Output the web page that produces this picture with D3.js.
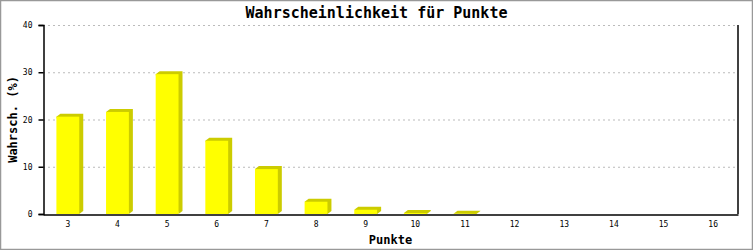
<!DOCTYPE html>
<html>
<head>
<meta charset="utf-8">
<script src="https://cdn.jsdelivr.net/npm/d3@7"></script>
<style>
  body { margin: 0; background: #fff; }
  svg text { font-family: 'DejaVu Sans Mono', monospace; fill: #000; }
</style>
</head>
<body>
<div id="chart"></div>
<script>
  // chart values
  const categories = ['3', '4', '5', '6', '7', '8', '9', '10', '11', '12', '13', '14', '15', '16'];
  const values = [20.6, 21.6, 29.6, 15.5, 9.5, 2.6, 0.9, 0.2, 0.05, 0, 0, 0, 0, 0];
  const yTicks = [0, 10, 20, 30, 40];
  const title = 'Wahrscheinlichkeit für Punkte';
  const xLabel = 'Punkte';
  const yLabel = 'Wahrsch. (%)';

  const width = 753, height = 250;
  const margin = { top: 25, right: 15, bottom: 36, left: 43 };
  const depth = { dx: 4, dy: 3 };

  let svg = d3.select('#chart')
    .append('svg')
    .attr('width', width)
    .attr('height', height);

  svg.append('rect')
    .attr('x', 0.5).attr('y', 0.5)
    .attr('width', width - 1).attr('height', height - 1)
    .attr('fill', '#fff')
    .attr('stroke', '#999')
    .attr('stroke-width', 1.5);

  let x = d3.scaleBand()
    .domain(categories)
    .range([margin.left, width - margin.right])
    .padding(0);
  let y = d3.scaleLinear()
    .domain([0, 40])
    .range([height - margin.bottom, margin.top]);

  let barW = x.bandwidth() * 0.46;

  // grid lines
  svg.append('g')
    .selectAll('line')
    .data(yTicks.filter(d => d > 0))
    .enter()
    .append('line')
    .attr('x1', margin.left)
    .attr('x2', width - margin.right)
    .attr('y1', d => y(d) + 0.5)
    .attr('y2', d => y(d) + 0.5)
    .attr('stroke', '#bbb')
    .attr('stroke-dasharray', '2,3');

  // y axis
  let gY = svg.append('g')
    .attr('transform', `translate(${margin.left + 0.5},0)`)
    .call(d3.axisLeft(y).tickValues(yTicks).tickSize(5).tickPadding(6));
  gY.select('.domain').attr('stroke', '#000').attr('stroke-width', 1.5);
  gY.selectAll('.tick line').attr('stroke', '#000').attr('stroke-width', 1.5);
  gY.selectAll('.tick text').attr('font-size', 8).attr('font-family', 'DejaVu Sans Mono');

  // right border of plot
  svg.append('line')
    .attr('x1', width - margin.right).attr('x2', width - margin.right)
    .attr('y1', margin.top).attr('y2', y(0))
    .attr('stroke', '#000').attr('stroke-width', 1.5);

  // bars with 3d shading
  let bars = svg.append('g')
    .selectAll('g')
    .data(categories.map((c, i) => ({ c: c, v: values[i] })).filter(d => d.v > 0))
    .enter()
    .append('g');

  bars.append('polygon')
    .attr('fill', '#cccc00')
    .attr('points', d => {
      let x0 = x(d.c) + (x.bandwidth() - barW) / 2;
      let x1 = x0 + barW;
      let yt = y(d.v), yb = y(0);
      return [[x0, yt], [x0 + depth.dx, yt - depth.dy], [x1 + depth.dx, yt - depth.dy],
        [x1 + depth.dx, yb - depth.dy], [x1, yb]].map(p => p.join(',')).join(' ');
    });

  bars.append('rect')
    .attr('fill', '#ffff00')
    .attr('x', d => x(d.c) + (x.bandwidth() - barW) / 2)
    .attr('y', d => y(d.v))
    .attr('width', barW)
    .attr('height', d => y(0) - y(d.v));

  // x axis
  let gX = svg.append('g')
    .attr('transform', `translate(0,${y(0) + 0.5})`)
    .call(d3.axisBottom(x).tickSize(0).tickPadding(7));
  gX.select('.domain').attr('stroke', '#000').attr('stroke-width', 1.5);
  gX.selectAll('.tick text').attr('font-size', 8).attr('font-family', 'DejaVu Sans Mono');

  // titles
  svg.append('text')
    .attr('x', width / 2)
    .attr('y', 18)
    .attr('text-anchor', 'middle')
    .attr('font-size', 15)
    .attr('font-weight', 'bold')
    .text(title);

  svg.append('text')
    .attr('x', (margin.left + width - margin.right) / 2)
    .attr('y', 244)
    .attr('text-anchor', 'middle')
    .attr('font-size', 12)
    .attr('font-weight', 'bold')
    .text(xLabel);

  svg.append('text')
    .attr('transform', `translate(17,${(margin.top + y(0)) / 2}) rotate(-90)`)
    .attr('text-anchor', 'middle')
    .attr('font-size', 12)
    .attr('font-weight', 'bold')
    .text(yLabel);
</script>
</body>
</html>
